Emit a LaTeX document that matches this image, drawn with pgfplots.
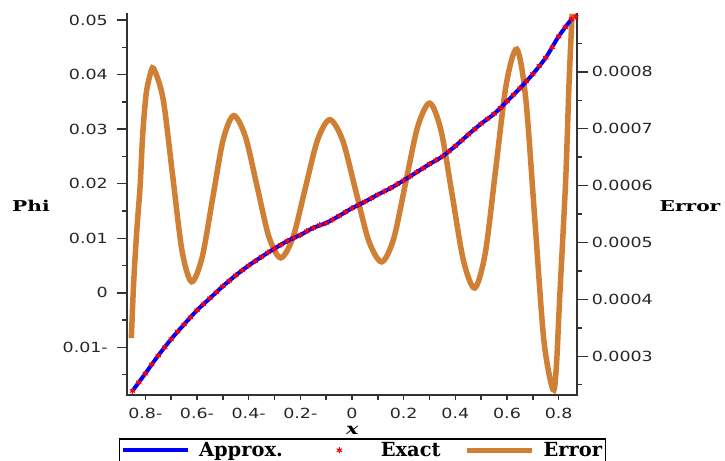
\documentclass[border=0pt]{standalone}
\usepackage{fontspec}
\setmainfont{DejaVu Serif}
\newfontfamily\tickfont{DejaVu Sans}
\usepackage{graphicx}
\usepackage{pgfplots}
\usepackage{pgfplotstable}
\pgfplotsset{compat=1.18}
\pgfplotsset{mylegimg/.style={legend image code/.code={\draw[mark repeat=2,mark phase=2,##1] plot coordinates {(0bp,0bp) (32.5bp,0bp) (65bp,0bp)};}},
  starleg/.style={legend image code/.code={\path[draw=none,fill=none] (0bp,0bp) -- (65bp,0bp); \draw[red, line width=1.1bp] plot[mark=asterisk, mark size=3bp] coordinates {(32.5bp,0bp)};}}}
\definecolor{errc}{RGB}{207,128,52}
\definecolor{axc}{RGB}{50,50,50}
\newcommand{\tk}[1]{\scalebox{1.25}[1]{\fontsize{14}{14}\tickfont #1}}
\newcommand{\lab}[1]{\scalebox{1.35}[1]{\fontsize{15}{15}\selectfont\bfseries #1}}

\pgfplotstableread{
x phi
-0.850 -0.0180
-0.800 -0.0148
-0.750 -0.0115
-0.700 -0.0085
-0.650 -0.0058
-0.600 -0.0032
-0.550 -0.0010
-0.500 0.0012
-0.450 0.0032
-0.400 0.0050
-0.350 0.0066
-0.300 0.0081
-0.250 0.0095
-0.200 0.0106
-0.150 0.0119
-0.100 0.0128
-0.050 0.0141
0.000 0.0155
0.050 0.0167
0.100 0.0180
0.150 0.0192
0.200 0.0206
0.250 0.0221
0.300 0.0236
0.350 0.0250
0.400 0.0269
0.450 0.0290
0.500 0.0310
0.550 0.0328
0.600 0.0351
0.650 0.0375
0.700 0.0401
0.750 0.0431
0.800 0.0470
0.850 0.0502
}\approxdata

\pgfplotstableread{
x phi
-0.850 -0.0180
-0.825 -0.0164
-0.800 -0.0148
-0.775 -0.0131
-0.750 -0.0115
-0.725 -0.0100
-0.700 -0.0085
-0.675 -0.0071
-0.650 -0.0058
-0.625 -0.0045
-0.600 -0.0032
-0.575 -0.0021
-0.550 -0.0010
-0.525 0.0001
-0.500 0.0012
-0.475 0.0022
-0.450 0.0032
-0.425 0.0041
-0.400 0.0050
-0.375 0.0058
-0.350 0.0066
-0.325 0.0074
-0.300 0.0081
-0.275 0.0088
-0.250 0.0095
-0.225 0.0101
-0.200 0.0106
-0.175 0.0113
-0.150 0.0119
-0.125 0.0124
-0.100 0.0128
-0.075 0.0134
-0.050 0.0141
-0.025 0.0148
0.000 0.0155
0.025 0.0161
0.050 0.0167
0.075 0.0173
0.100 0.0180
0.125 0.0186
0.150 0.0192
0.175 0.0199
0.200 0.0206
0.225 0.0213
0.250 0.0221
0.275 0.0228
0.300 0.0236
0.325 0.0243
0.350 0.0250
0.375 0.0259
0.400 0.0269
0.425 0.0279
0.450 0.0290
0.475 0.0300
0.500 0.0310
0.525 0.0319
0.550 0.0328
0.575 0.0339
0.600 0.0351
0.625 0.0363
0.650 0.0375
0.675 0.0388
0.700 0.0401
0.725 0.0416
0.750 0.0431
0.775 0.0450
0.800 0.0470
0.825 0.0487
0.850 0.0502
0.866 0.0506
}\exactdata

\pgfplotstableread{
x err
-0.854 0.000332
-0.845 0.000430
-0.833 0.000520
-0.820 0.000600
-0.810 0.000690
-0.797 0.000760
-0.783 0.000792
-0.768 0.000806
-0.731 0.000752
-0.6945 0.000619
-0.658 0.000486
-0.621 0.000431
-0.580 0.000474
-0.5395 0.000577
-0.499 0.000680
-0.458 0.000723
-0.4125 0.000686
-0.367 0.000598
-0.3215 0.000510
-0.276 0.000473
-0.2285 0.000509
-0.181 0.000595
-0.1335 0.000680
-0.086 0.000716
-0.0358 0.000679
0.0145 0.000591
0.0648 0.000503
0.115 0.000466
0.1615 0.000507
0.208 0.000606
0.2545 0.000704
0.301 0.000745
0.3445 0.000697
0.388 0.000583
0.4315 0.000468
0.475 0.000420
0.516 0.000482
0.5565 0.000630
0.597 0.000778
0.638 0.000840
0.67275 0.000752
0.7075 0.000541
0.74225 0.000330
0.777 0.000242
0.790 0.000275
0.804 0.000404
0.827 0.000610
0.840 0.000780
0.852 0.000902
}\errdata

\begin{document}
\begin{tikzpicture}
\path[use as bounding box] (-126.7bp,-66bp) rectangle (598.3bp,395bp);
% ---------- Error axis (right) ----------
\begin{axis}[
  at={(0,0)}, anchor=south west,
  scale only axis, width=450.6bp, height=382.3bp,
  xmin=-0.872, xmax=0.872, ymin=0.000232, ymax=0.000904,
  axis x line=none, axis y line=right,
  axis line style={-, line width=2.2bp, draw=axc},
  scaled y ticks=false,
  ytick={0.0003,0.0004,0.0005,0.0006,0.0007,0.0008},
  yticklabels={\tk{0.0003},\tk{0.0004},\tk{0.0005},\tk{0.0006},\tk{0.0007},\tk{0.0008}},
  minor ytick={0.00025,0.00035,0.00045,0.00055,0.00065,0.00075,0.00085},
  tick align=outside, major tick length=11bp, minor tick length=5bp,
  tick style={line width=1.4bp, draw=axc},
  yticklabel style={text=black!85},
  ylabel={\lab{Error}},
  every axis y label/.style={at={(axis description cs:1.2501,0.4944)}, anchor=center},
  clip=false,
]
\addplot[errc, line width=5.5bp, smooth] table[x=x, y=err] {\errdata};
\end{axis}
% ---------- Phi axis (left) ----------
\begin{axis}[
  at={(0,0)}, anchor=south west,
  scale only axis, width=450.6bp, height=382.3bp,
  xmin=-0.872, xmax=0.872, ymin=-0.01873, ymax=0.05134,
  axis x line=bottom, axis y line=left,
  axis line style={-, line width=2.2bp, draw=axc},
  scaled y ticks=false, scaled x ticks=false,
  xtick={-0.8,-0.6,-0.4,-0.2,0,0.2,0.4,0.6,0.8},
  xticklabels={\tk{0.8-},\tk{0.6-},\tk{0.4-},\tk{0.2-},\tk{0},\tk{0.2},\tk{0.4},\tk{0.6},\tk{0.8}},
  minor xtick={-0.8,-0.7,-0.6,-0.5,-0.4,-0.3,-0.2,-0.1,0,0.1,0.2,0.3,0.4,0.5,0.6,0.7,0.8},
  major x tick style={draw=none},
  ytick={-0.01,0,0.01,0.02,0.03,0.04,0.05},
  yticklabels={\tk{0.01-},\tk{0},\tk{0.01},\tk{0.02},\tk{0.03},\tk{0.04},\tk{0.05}},
  minor ytick={-0.015,-0.005,0.005,0.015,0.025,0.035,0.045},
  tick align=outside, major tick length=10bp, minor tick length=5bp,
  tick style={line width=1.4bp, draw=axc},
  xticklabel style={text=black!85},
  yticklabel style={text=black!85, xshift=-5.4bp},
  xlabel={\scalebox{1.3}[1]{\fontsize{16}{16}\selectfont\bfseries\itshape x}},
  every axis x label/.style={at={(axis description cs:0.5007,0)}, anchor=center, yshift=-35bp},
  ylabel={\lab{Phi}},
  every axis y label/.style={at={(axis description cs:-0.2124,0.4944)}, anchor=center},
  clip=false,
  legend columns=3,
  mylegimg,
  legend style={at={(axis description cs:-0.0171,-0.1133)}, anchor=north west,
    draw=black, line width=1.2bp, inner sep=1.5bp,
    font=\fontsize{19.5}{19.5}\selectfont\bfseries,
    /tikz/every odd column/.append style={column sep=7bp},
    /tikz/every even column/.append style={column sep=22bp}},
]
\draw[line width=2.2bp, axc] (rel axis cs:0,1) -- (rel axis cs:0,0) -- (rel axis cs:1,0) -- (rel axis cs:1,1);
\addplot[blue, line width=4bp, smooth] table[x=x, y=phi] {\approxdata};
\addlegendentry{Approx.}
\addplot[only marks, red, mark=asterisk, mark size=3bp, mark options={line width=1.1bp}, forget plot] table[x=x, y=phi] {\exactdata};
\addlegendimage{starleg}
\addlegendentry{Exact}
\addlegendimage{errc, line width=5bp}
\addlegendentry{Error}
\end{axis}
\end{tikzpicture}
\end{document}
